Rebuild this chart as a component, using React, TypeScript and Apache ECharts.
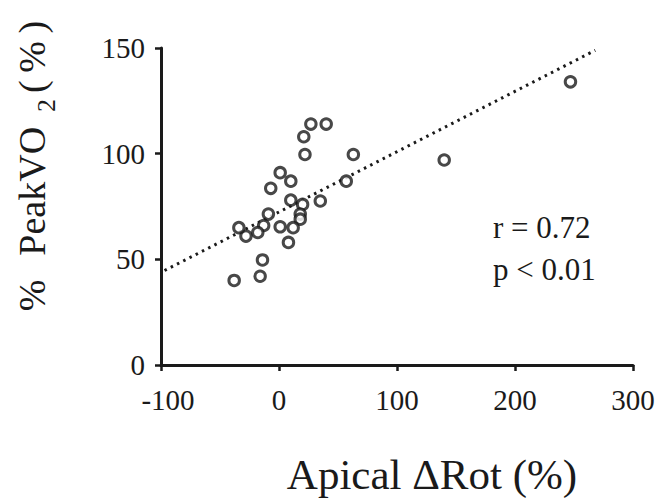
import React, { useEffect, useRef } from "react";
import * as echarts from "echarts";

const apicalRot = [247, 140, 63, 57, 40, 27, 21, 22, 35, 20, 10, 10, 1, -7, 18, 18, 12, 1, -9, -13, -18, -28, -34, 8, -14, -16, -38];
const peakVO2 = [134, 97, 99.6, 87, 114, 114, 108, 99.6, 77.6, 76, 78, 87, 91, 83.6, 71.4, 69, 65, 65.4, 71.4, 66, 62.7, 61, 65, 58, 49.7, 42, 40];
const trendX = [-97, 268];
const trendY = [44.7, 148.9];
const xTicks = [-100, 0, 100, 200, 300];
const yTicks = [0, 50, 100, 150];
const statLines = ["r = 0.72", "p < 0.01"];
const xTitle = "Apical \u0394Rot (%)";

const FONT = "'Liberation Serif', 'Times New Roman', serif";
const INK = "#1a1a1a";

export default function App() {
  const ref = useRef<HTMLDivElement>(null);
  useEffect(() => {
    if (!ref.current) return;
    const chart = echarts.init(ref.current, undefined, { renderer: "svg" });
    const points = apicalRot.map((x, i) => [x, peakVO2[i]]);
    const trend = trendX.map((x, i) => [x, trendY[i]]);
    chart.setOption({
      animation: false,
      backgroundColor: "#ffffff",
      grid: { left: 161, right: 26, top: 48, bottom: 135, containLabel: false, outerBoundsMode: "none" },
      xAxis: {
        type: "value",
        min: xTicks[0],
        max: xTicks[xTicks.length - 1],
        interval: 100,
        axisLine: { show: true, onZero: false, lineStyle: { color: INK, width: 3 } },
        axisTick: { show: true, length: 6, lineStyle: { color: INK, width: 2.5 } },
        axisLabel: {
          fontFamily: FONT,
          fontSize: 29,
          lineHeight: 20,
          color: INK,
          margin: 25,
          formatter: (v: number) => (v === xTicks[0] ? "{m|" + v + "}" : String(v)),
          rich: { m: { fontFamily: FONT, fontSize: 29, lineHeight: 20, color: INK, padding: [0, 0, 0, 14] } },
        },
        splitLine: { show: false },
      },
      yAxis: {
        type: "value",
        min: yTicks[0],
        max: yTicks[yTicks.length - 1],
        interval: 50,
        axisLine: { show: true, onZero: false, lineStyle: { color: INK, width: 3 } },
        axisTick: { show: true, length: 6, lineStyle: { color: INK, width: 2.5 } },
        axisLabel: { fontFamily: FONT, fontSize: 29, lineHeight: 20, color: INK, margin: 16, padding: [0, 0, 8, 0] },
        splitLine: { show: false },
      },
      graphic: [
        {
          type: "text",
          x: 32,
          y: 166,
          rotation: Math.PI / 2,
          style: {
            text: "{p|%}{m|PeakVO}{s|2}{q|(\u2009%\u2009)}",
            fontFamily: FONT,
            fontSize: 38,
            fill: INK,
            align: "center",
            verticalAlign: "middle",
            rich: {
              p: { fontFamily: FONT, fontSize: 38, fill: INK, verticalAlign: "middle", padding: [0, 24, 0, 0] },
              m: { fontFamily: FONT, fontSize: 38, fill: INK, verticalAlign: "middle", padding: [0, 15, 0, 0] },
              s: { fontFamily: FONT, fontSize: 26, fill: INK, verticalAlign: "middle", padding: [28, 6, 0, 0] },
              q: { fontFamily: FONT, fontSize: 38, fill: INK, verticalAlign: "middle" },
            },
          },
        },
        {
          type: "text",
          x: 432,
          y: 453,
          style: {
            text: xTitle,
            fontFamily: FONT,
            fontSize: 43,
            fill: INK,
            align: "center",
            verticalAlign: "top",
          },
        },
        {
          type: "text",
          left: 493,
          top: 207,
          style: {
            text: statLines.join("\n"),
            fontFamily: FONT,
            fontSize: 31,
            lineHeight: 41.7,
            fill: INK,
          },
        },
      ],
      series: [
        {
          type: "line",
          data: trend,
          symbol: "none",
          lineStyle: { color: INK, width: 3, type: [2.5, 4.5] },
          z: 1,
        },
        {
          type: "scatter",
          data: points,
          symbol: "circle",
          symbolSize: 10.5,
          itemStyle: { color: "#ffffff", borderColor: INK, borderWidth: 3 },
          z: 2,
        },
      ],
    });
    return () => chart.dispose();
  }, []);
  return <div ref={ref} style={{ position: "fixed", left: 0, top: 0, width: 659, height: 500 }} />;
}
